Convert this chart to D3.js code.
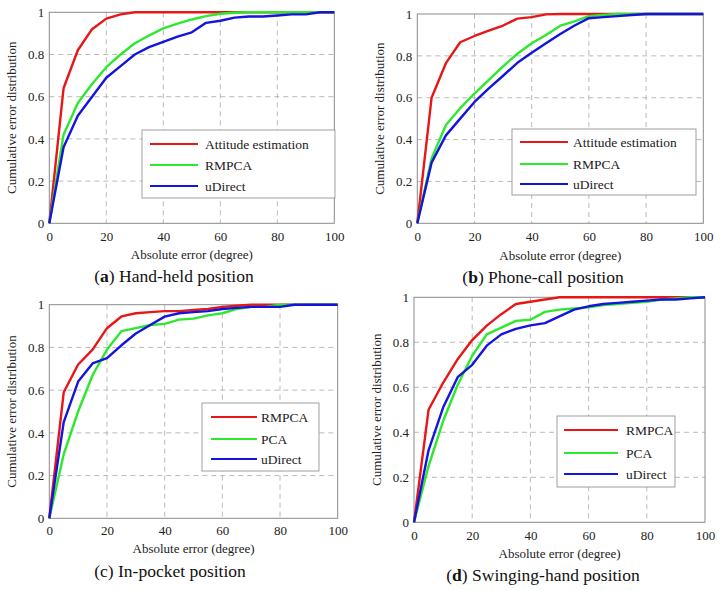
<!DOCTYPE html>
<html><head><meta charset="utf-8">
<script src="https://cdn.jsdelivr.net/npm/d3@7"></script>
<style>body{margin:0;background:#fff}svg{display:block}</style>
</head><body><svg id="c" width="721" height="591"></svg>
<script>
const xs = [0,5,10,15,20,25,30,35,40,45,50,55,60,65,70,75,80,85,90,95,100];
const xTicks = [0,20,40,60,80,100];
const yTicks = [0,0.2,0.4,0.6,0.8,1];
const yTickLabels = ["0","0.2","0.4","0.6","0.8","1"];
const xTitle = "Absolute error (degree)";
const yTitle = "Cumulative error distribution";

// (a) Hand-held
const aNames = ["Attitude estimation","RMPCA","uDirect"];
const aRed   = [0,0.64,0.82,0.92,0.97,0.99,1,1,1,1,1,1,1,1,1,1,1,1,1,1,1];
const aGreen = [0,0.42,0.57,0.66,0.74,0.80,0.853,0.89,0.924,0.946,0.966,0.982,0.993,0.998,1,1,1,1,1,1,1];
const aBlue  = [0,0.36,0.51,0.60,0.69,0.745,0.80,0.835,0.86,0.885,0.905,0.95,0.96,0.975,0.98,0.98,0.985,0.99,0.99,1,1];
// (b) Phone-call
const bNames = ["Attitude estimation","RMPCA","uDirect"];
const bRed   = [0,0.60,0.765,0.865,0.895,0.92,0.945,0.978,0.985,0.998,1,1,1,1,1,1,1,1,1,1,1];
const bGreen = [0,0.31,0.47,0.55,0.62,0.685,0.75,0.81,0.86,0.90,0.944,0.965,0.99,0.995,1,1,1,1,1,1,1];
const bBlue  = [0,0.29,0.42,0.50,0.58,0.645,0.705,0.767,0.815,0.86,0.904,0.945,0.98,0.985,0.99,0.995,1,1,1,1,1];
// (c) In-pocket
const cNames = ["RMPCA","PCA","uDirect"];
const cRed   = [0,0.59,0.72,0.79,0.89,0.945,0.96,0.965,0.97,0.97,0.975,0.98,0.99,0.995,1,1,1,1,1,1,1];
const cGreen = [0,0.30,0.50,0.67,0.79,0.876,0.89,0.905,0.91,0.93,0.935,0.95,0.96,0.98,0.99,0.99,1,1,1,1,1];
const cBlue  = [0,0.45,0.64,0.725,0.75,0.81,0.865,0.905,0.944,0.96,0.965,0.97,0.98,0.985,0.99,0.99,0.99,1,1,1,1];
// (d) Swinging-hand
const dNames = ["RMPCA","PCA","uDirect"];
const dRed   = [0,0.50,0.62,0.725,0.81,0.874,0.925,0.97,0.98,0.99,1,1,1,1,1,1,1,1,1,1,1];
const dGreen = [0,0.25,0.45,0.61,0.74,0.835,0.865,0.895,0.90,0.935,0.945,0.95,0.955,0.965,0.97,0.975,0.98,0.99,0.995,1,1];
const dBlue  = [0,0.32,0.51,0.645,0.70,0.785,0.835,0.86,0.875,0.885,0.915,0.945,0.96,0.97,0.975,0.98,0.985,0.99,0.99,0.995,1];

const colors = ["#e81616","#2ee82e","#1414dc"];
const FONT = "'Liberation Serif','Times New Roman',serif";

const panels = [
  {letter:"a", cap:" Hand-held position", names:aNames, series:[aRed,aGreen,aBlue],
   l:49.3,r:334.3,t:12.3,b:223.3, leg:{x:142,y:130,w:193,h:68,lx1:150,lx2:198,tx:205,rows:[144,165,186]},
   xl:241, xt:259, yt:16, capY:282, capX:174, capBold:true},
  {letter:"b", cap:" Phone-call position", names:bNames, series:[bRed,bGreen,bBlue],
   l:417.3,r:703.3,t:14,b:223.3, leg:{x:512,y:129,w:184,h:66,lx1:520,lx2:568,tx:573,rows:[142,164,184]},
   xl:241, xt:260, yt:384, capY:283, capX:543, capBold:true},
  {letter:"c", cap:" In-pocket position", names:cNames, series:[cRed,cGreen,cBlue],
   l:49.3,r:337.7,t:304.7,b:518.3, leg:{x:202,y:403,w:117,h:68,lx1:211,lx2:257,tx:261,rows:[417,439,459]},
   xl:535, xt:553, yt:16, capY:577, capX:170, capBold:false},
  {letter:"d", cap:" Swinging-hand position", names:dNames, series:[dRed,dGreen,dBlue],
   l:414,r:705,t:297.3,b:522.3, leg:{x:557,y:416,w:118,h:71,lx1:564,lx2:618,tx:626,rows:[430,453,474]},
   xl:540, xt:558, yt:381, capY:581, capX:543, capBold:true}
];

const svg = d3.select("#c").attr("font-family",FONT);
panels.forEach(p => {
  const x = d3.scaleLinear().domain([0,100]).range([p.l,p.r]);
  const y = d3.scaleLinear().domain([0,1]).range([p.b,p.t]);
  const g = svg.append("g");
  g.selectAll(".gx").data(xTicks.slice(1,-1)).join("line")
    .attr("x1",d=>x(d)).attr("x2",d=>x(d)).attr("y1",p.t).attr("y2",p.b)
    .attr("stroke","#a8a8a8").attr("stroke-width",0.8).attr("stroke-dasharray","5,4");
  g.selectAll(".gy").data(yTicks.slice(1,-1)).join("line")
    .attr("y1",d=>y(d)).attr("y2",d=>y(d)).attr("x1",p.l).attr("x2",p.r)
    .attr("stroke","#a8a8a8").attr("stroke-width",0.8).attr("stroke-dasharray","5,4");
  g.append("rect").attr("x",p.l).attr("y",p.t).attr("width",p.r-p.l).attr("height",p.b-p.t)
    .attr("fill","none").attr("stroke","#8a8a8a").attr("stroke-width",1);
  const xa = g.append("g").attr("transform",`translate(0,${p.b})`)
    .call(d3.axisBottom(x).tickValues(xTicks).tickSize(0).tickPadding(0).tickFormat(d3.format("d")));
  xa.attr("font-family",FONT).attr("font-size",13);
  xa.select(".domain").remove();
  xa.selectAll("text").attr("dy",null).attr("y",p.xl-p.b).attr("fill","#222");
  const ya = g.append("g").attr("transform",`translate(${p.l},0)`)
    .call(d3.axisLeft(y).tickValues(yTicks).tickSize(0).tickPadding(5).tickFormat((d,i)=>yTickLabels[i]));
  ya.attr("font-family",FONT).attr("font-size",13);
  ya.select(".domain").remove();
  ya.selectAll("text").attr("fill","#222");
  g.append("text").attr("x",(p.l+p.r)/2).attr("y",p.xt).attr("text-anchor","middle")
    .attr("font-size","13px").attr("fill","#222").text(xTitle);
  g.append("text").attr("transform",`translate(${p.yt},${(p.t+p.b)/2}) rotate(-90)`)
    .attr("text-anchor","middle").attr("font-size","13px").attr("fill","#222").text(yTitle);
  const line = d3.line().x((d,i)=>x(xs[i])).y(d=>y(d));
  p.series.forEach((s,k)=>{
    g.append("path").datum(s).attr("d",line).attr("fill","none")
      .attr("stroke",colors[k]).attr("stroke-width",2.4).attr("stroke-linejoin","round");
  });
  const L = p.leg;
  g.append("rect").attr("x",L.x).attr("y",L.y).attr("width",L.w).attr("height",L.h)
    .attr("fill","#fff").attr("stroke","#888").attr("stroke-width",0.8);
  p.names.forEach((n,k)=>{
    g.append("line").attr("x1",L.lx1).attr("x2",L.lx2).attr("y1",L.rows[k]).attr("y2",L.rows[k])
      .attr("stroke",colors[k]).attr("stroke-width",2);
    g.append("text").attr("x",L.tx).attr("y",L.rows[k]+4.5).attr("font-size","13.5px").attr("fill","#222").text(n);
  });
  const cap = g.append("text").attr("x",p.capX).attr("y",p.capY).attr("text-anchor","middle")
    .attr("font-size","17.5px").attr("fill","#111");
  cap.append("tspan").text("(");
  cap.append("tspan").attr("font-weight",p.capBold?"bold":"normal").text(p.letter);
  cap.append("tspan").text(")"+p.cap);
});
</script></body></html>
